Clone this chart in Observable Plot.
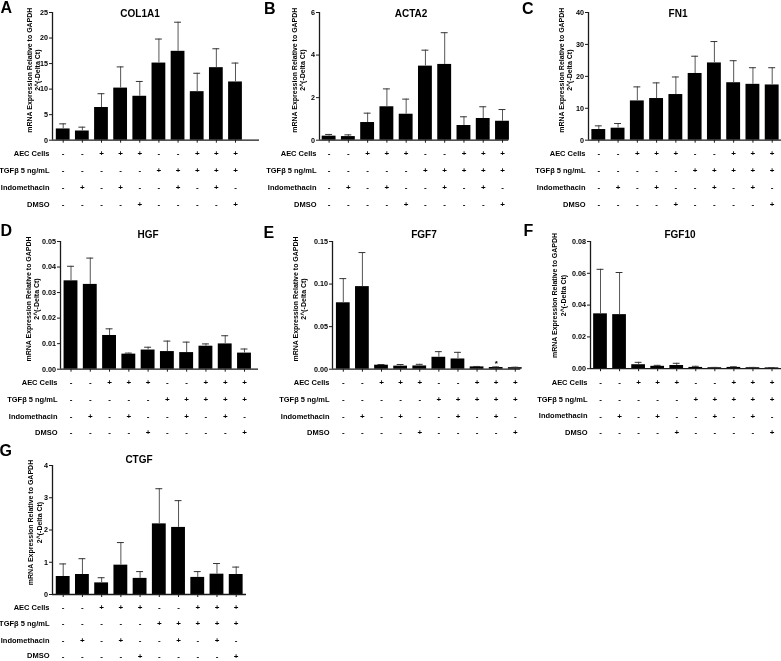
<!DOCTYPE html>
<html>
<head>
<meta charset="utf-8">
<script src="https://cdn.jsdelivr.net/npm/d3@7"></script>
<script src="https://cdn.jsdelivr.net/npm/@observablehq/plot@0.6"></script>
<style>
  html, body { margin: 0; padding: 0; background: #fff; }
  #fig { position: relative; width: 781px; height: 661px; overflow: hidden; background: #fff;
         font-family: "Liberation Sans", Arial, sans-serif; font-weight: bold; color: #000; }
  .letter { position: absolute; font-size: 16px; line-height: 1; }
  .title { position: absolute; font-size: 10px; line-height: 1; transform: translateX(-50%); white-space: nowrap; }
  .panel { position: absolute; will-change: transform; }
</style>
</head>
<body>
<div id="fig"></div>
<script>
// ---- categories / table rows ----
const conditions = [1, 2, 3, 4, 5, 6, 7, 8, 9, 10];
const aecCells     = ["-", "-", "+", "+", "+", "-", "-", "+", "+", "+"];
const tgfb         = ["-", "-", "-", "-", "-", "+", "+", "+", "+", "+"];
const indomethacin = ["-", "+", "-", "+", "-", "-", "+", "-", "+", "-"];
const dmso         = ["-", "-", "-", "-", "+", "-", "-", "-", "-", "+"];
const rowLabels = ["AEC Cells", "TGFβ 5 ng/mL", "Indomethacin", "DMSO"];
const yLabel = "mRNA Expression Relative to GAPDH\n2^(-Delta Ct)";

// ---- series values (mean and SEM) ----
const col1a1Mean = [2.2, 1.8, 6.4, 10.2, 8.6, 15.1, 17.4, 9.5, 14.2, 11.4];
const col1a1Sem  = [1.0, 0.75, 2.7, 4.15, 2.9, 4.7, 5.7, 3.6, 3.7, 3.7];
const acta2Mean  = [0.19, 0.17, 0.83, 1.57, 1.22, 3.48, 3.56, 0.69, 1.02, 0.89];
const acta2Sem   = [0.08, 0.08, 0.44, 0.84, 0.71, 0.75, 1.49, 0.41, 0.55, 0.55];
const fn1Mean    = [3.34, 3.76, 12.3, 13.05, 14.3, 20.9, 24.2, 18.0, 17.5, 17.3];
const fn1Sem     = [1.15, 1.46, 4.4, 4.9, 5.5, 5.4, 6.7, 6.9, 5.2, 5.4];
const hgfMean    = [0.0346, 0.0332, 0.0132, 0.0059, 0.0075, 0.0069, 0.0065, 0.0090, 0.0099, 0.0063];
const hgfSem     = [0.0057, 0.0103, 0.0026, 0.0004, 0.0011, 0.0041, 0.0041, 0.0009, 0.0032, 0.0016];
const fgf7Mean   = [0.078, 0.097, 0.0047, 0.0036, 0.0038, 0.014, 0.012, 0.0027, 0.002, 0.0018];
const fgf7Sem    = [0.0284, 0.040, 0.0008, 0.0019, 0.0019, 0.0066, 0.0078, 0.0005, 0.0007, 0.0005];
const fgf7Star   = ["", "", "", "", "", "", "", "", "*", ""];
const fgf10Mean  = [0.0345, 0.034, 0.0025, 0.0015, 0.002, 0.0008, 0.0006, 0.0008, 0.0006, 0.0005];
const fgf10Sem   = [0.028, 0.0265, 0.0015, 0.0006, 0.0014, 0.0007, 0.0002, 0.0004, 0.0002, 0.0001];
const ctgfMean   = [0.558, 0.62, 0.36, 0.91, 0.50, 2.19, 2.08, 0.53, 0.63, 0.62];
const ctgfSem    = [0.39, 0.49, 0.16, 0.70, 0.21, 1.09, 0.83, 0.18, 0.33, 0.23];

// ---- y tick labels ----
const col1a1Ticks = [0, 5, 10, 15, 20, 25];
const acta2Ticks  = [0, 2, 4, 6];
const fn1Ticks    = [0, 10, 20, 30, 40];
const hgfTicks    = [0, 0.01, 0.02, 0.03, 0.04, 0.05];
const fgf7Ticks   = [0, 0.05, 0.10, 0.15];
const fgf10Ticks  = [0, 0.02, 0.04, 0.06, 0.08];
const ctgfTicks   = [0, 1, 2, 3, 4];

// ---- panel definitions ----
const panels = [
  {letter: "A", gene: "COL1A1", mean: col1a1Mean, sem: col1a1Sem, ticks: col1a1Ticks, fmt: "d"},
  {letter: "B", gene: "ACTA2",  mean: acta2Mean,  sem: acta2Sem,  ticks: acta2Ticks,  fmt: "d"},
  {letter: "C", gene: "FN1",    mean: fn1Mean,    sem: fn1Sem,    ticks: fn1Ticks,    fmt: "d"},
  {letter: "D", gene: "HGF",    mean: hgfMean,    sem: hgfSem,    ticks: hgfTicks,    fmt: ".2f"},
  {letter: "E", gene: "FGF7",   mean: fgf7Mean,   sem: fgf7Sem,   ticks: fgf7Ticks,   fmt: ".2f", star: fgf7Star},
  {letter: "F", gene: "FGF10",  mean: fgf10Mean,  sem: fgf10Sem,  ticks: fgf10Ticks,  fmt: ".2f"},
  {letter: "G", gene: "CTGF",   mean: ctgfMean,   sem: ctgfSem,   ticks: ctgfTicks,   fmt: "d"}
];

// ---- layout (page pixels) ----
const layout = {
  A: {x0: 52,    x1: 259, yTop: 12.3,  yBot: 140,   c1: 62.7,  c10: 235,   labX: 32.5,  labY: 70,  titleX: 140, titleY: 8.5, letX: 0.5, letY: 0,   rows: [13.3, 30.3, 47, 64]},
  B: {x0: 318.7, x1: 508, yTop: 12.3,  yBot: 140,   c1: 328.3, c10: 501.7, labX: 297.5, labY: 70,  titleX: 411, titleY: 8.5, letX: 264, letY: 1,   rows: [13.3, 30.3, 47, 64]},
  C: {x0: 588,   x1: 781, yTop: 12.3,  yBot: 140,   c1: 598.3, c10: 771.7, labX: 565,   labY: 70,  titleX: 678, titleY: 8.5, letX: 522, letY: 1,   rows: [13.3, 30.3, 47, 64]},
  D: {x0: 60,    x1: 258, yTop: 240.5, yBot: 368.2, c1: 70.5,  c10: 244,   labX: 32,    labY: 298, titleX: 148, titleY: 230, letX: 0.5, letY: 223, rows: [13.5, 30.5, 47.3, 63.5]},
  E: {x0: 331.7, x1: 520, yTop: 240.5, yBot: 368.2, c1: 342.5, c10: 514.5, labX: 298.3, labY: 298, titleX: 424, titleY: 230, letX: 263.5, letY: 225, rows: [13.5, 30.5, 47.3, 63.5]},
  F: {x0: 590,   x1: 781, yTop: 241,   yBot: 368.2, c1: 600,   c10: 771.5, labX: 558.3, labY: 295, titleX: 680, titleY: 230, letX: 523.5, letY: 223, rows: [13.5, 30.5, 47.3, 63.5]},
  G: {x0: 52,    x1: 246, yTop: 465,   yBot: 594,   c1: 62.7,  c10: 235.7, labX: 34.2,  labY: 522, titleX: 139, titleY: 454.5, letX: -0.5, letY: 443, rows: [12.7, 29.3, 46, 61.5]}
};

const fig = document.getElementById("fig");
const mL = 80, mR = 4, mT = 14, mB = 78;
const rowKeys = ["aec", "tgf", "indo", "dmso"];

for (const p of panels) {
  const L = layout[p.letter];
  const s = (L.c10 - L.c1) / 9;
  const lo = 1 - (L.c1 - L.x0) / s;
  const hi = 10 + (L.x1 - L.c10) / s;
  const W = L.x1 - L.x0, H = L.yBot - L.yTop;
  const ymax = p.ticks[p.ticks.length - 1];
  const data = conditions.map((c, k) => ({
    i: c, v: p.mean[k], e: p.sem[k],
    aec: aecCells[k], tgf: tgfb[k], indo: indomethacin[k], dmso: dmso[k],
    star: p.star ? p.star[k] : ""
  }));
  const halfBar = 0.36, capHalf = 0.18;

  const marks = [
    Plot.rectY(data, {x1: d => d.i - halfBar, x2: d => d.i + halfBar, y1: 0, y2: "v", fill: "#000"}),
    Plot.ruleX(data, {x: "i", y1: "v", y2: d => d.v + d.e, stroke: "#555", strokeWidth: 1}),
    Plot.ruleY(data, {y: d => d.v + d.e, x1: d => d.i - capHalf, x2: d => d.i + capHalf, stroke: "#333", strokeWidth: 1}),
    Plot.ruleX([lo], {y1: 0, y2: ymax, stroke: "#1a1a1a", strokeWidth: 1.3}),
    Plot.ruleY([0], {stroke: "#1a1a1a", strokeWidth: 1.3}),
    Plot.axisY({ticks: p.ticks, tickSize: 3, tickPadding: 1.5, tickFormat: d3.format(p.fmt), label: null, fontSize: 7.2, fontWeight: "bold", stroke: "#1a1a1a"}),
    Plot.axisX({ticks: conditions, tickSize: 3, tickFormat: () => "", label: null, stroke: "#1a1a1a"}),
    ...rowKeys.map((key, r) => Plot.text(data, {x: "i", text: key, frameAnchor: "bottom", lineAnchor: "middle", dy: L.rows[r], fontSize: 8, fontWeight: "bold"})),
    ...rowLabels.map((lab, r) => Plot.text([lab], {frameAnchor: "bottom-left", lineAnchor: "middle", dx: -3, dy: L.rows[r], textAnchor: "end", fontSize: 7.5, fontWeight: "bold"})),
    Plot.text([yLabel], {frameAnchor: "left", textAnchor: "middle", lineAnchor: "middle", dx: L.labX - L.x0, dy: L.labY - (L.yTop + H / 2), rotate: -90, lineHeight: 1.2, fontSize: 7, fontWeight: "bold"})
  ];
  if (p.star) {
    marks.push(Plot.text(data, {x: "i", y: d => d.v + d.e, text: "star", dy: -3, fontSize: 8, fontWeight: "bold"}));
  }

  const svg = Plot.plot({
    width: mL + W + mR, height: mT + H + mB,
    marginLeft: mL, marginRight: mR, marginTop: mT, marginBottom: mB,
    x: {type: "linear", domain: [lo, hi]},
    y: {type: "linear", domain: [0, ymax]},
    style: {background: "transparent", overflow: "visible", maxWidth: "none",
            fontFamily: "'Liberation Sans', Arial, sans-serif", fontWeight: "bold", fontSize: "7.5px", color: "#000"},
    marks
  });
  const wrap = document.createElement("div");
  wrap.className = "panel";
  wrap.style.left = (L.x0 - mL) + "px";
  wrap.style.top = (L.yTop - mT) + "px";
  wrap.appendChild(svg);
  fig.appendChild(wrap);

  const t = document.createElement("div");
  t.className = "title";
  t.textContent = p.gene;
  t.style.left = L.titleX + "px";
  t.style.top = L.titleY + "px";
  fig.appendChild(t);

  const l = document.createElement("div");
  l.className = "letter";
  l.textContent = p.letter;
  l.style.left = L.letX + "px";
  l.style.top = L.letY + "px";
  fig.appendChild(l);
}
</script>
</body>
</html>
